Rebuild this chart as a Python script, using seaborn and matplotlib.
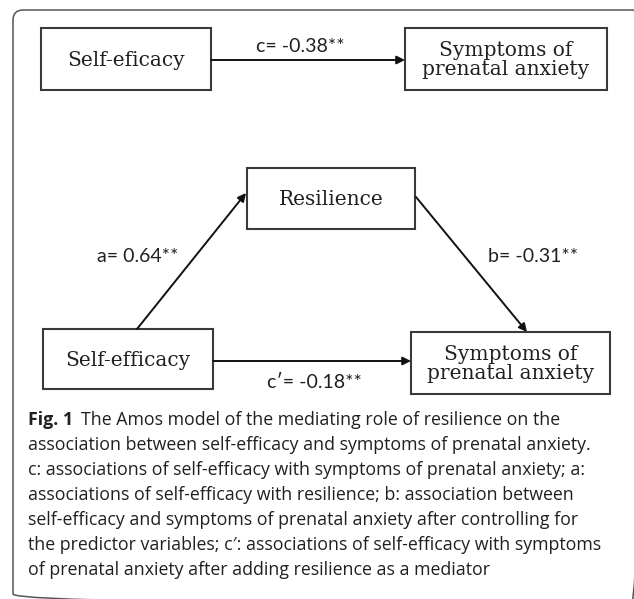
import numpy as np
import pandas as pd
import matplotlib
matplotlib.use("Agg")
import matplotlib.pyplot as plt
from matplotlib.patches import Rectangle, FancyBboxPatch
import seaborn as sns

# path model: variables and coefficients
nodes = ["Self-eficacy", "Symptoms of\nprenatal anxiety", "Resilience",
         "Self-efficacy", "Symptoms of\nprenatal anxiety"]
paths = ["c", "a", "b", "c′"]
coefs = [-0.38, 0.64, -0.31, -0.18]
stars = ["**", "**", "**", "**"]

caption_lines = [
    "The Amos model of the mediating role of resilience on the",
    "association between self-efficacy and symptoms of prenatal anxiety.",
    "c: associations of self-efficacy with symptoms of prenatal anxiety; a:",
    "associations of self-efficacy with resilience; b: association between",
    "self-efficacy and symptoms of prenatal anxiety after controlling for",
    "the predictor variables; c′: associations of self-efficacy with symptoms",
    "of prenatal anxiety after adding resilience as a mediator",
]

sns.set_style("white")
plt.rcParams["font.family"] = ["Lato", "DejaVu Sans"]

W, H = 634, 599
fig = plt.figure(figsize=(W / 100, H / 100), dpi=100)
ax = fig.add_axes([0, 0, 1, 1])
ax.set_xlim(0, W)
ax.set_ylim(H, 0)
ax.axis("off")

edge = "#3a3a3a"
ink = "#231f20"

# outer frame (right and bottom edges run off the picture)
ax.add_patch(FancyBboxPatch((13, 10), 628, 594,
                            boxstyle="round,pad=0,rounding_size=10",
                            fill=False, ec="#555555", lw=1.1))

# boxes: x0, y0, x1, y1
boxes = [(41, 28, 211, 90), (405, 28, 607, 90), (247, 168, 415, 229),
         (43, 329, 213, 389), (411, 332, 610, 394)]
for (x0, y0, x1, y1), name in zip(boxes, nodes):
    ax.add_patch(Rectangle((x0, y0), x1 - x0, y1 - y0, fill=False,
                           ec=edge, lw=1.5))
    ax.text((x0 + x1) / 2, (y0 + y1) / 2 + 1, name, ha="center", va="center",
            family="DejaVu Serif", fontsize=14.5, color=ink,
            linespacing=1.05)

# arrows: start, end
arrows = [((211, 60), (405, 60)), ((137, 329), (246, 193)),
          ((416, 197), (527, 332)), ((213, 361), (411, 361))]
for (s, e) in arrows:
    ax.annotate("", xy=e, xytext=s,
                arrowprops=dict(arrowstyle="-|>", color="#111111", lw=1.4,
                                mutation_scale=12, shrinkA=0, shrinkB=0))

label_pos = [(300, 47), (138, 257), (533, 257), (314, 382)]
for p, c, st, (x, y) in zip(paths, coefs, stars, label_pos):
    ax.text(x, y, f"{p}= {c:.2f}{st}", ha="center", va="center",
            fontsize=14, color=ink)

# caption
cap_font = dict(family=["Open Sans", "DejaVu Sans"], fontsize=12.8, color=ink)
y0 = 420
fig.canvas.draw()
r = fig.canvas.get_renderer()
t = ax.text(28, y0, "Fig. 1", ha="left", va="center", fontweight="bold",
            **cap_font)
bb = t.get_window_extent(renderer=r)
x_after = ax.transData.inverted().transform((bb.x1, 0))[0] + 8
ax.text(x_after, y0, caption_lines[0], ha="left", va="center", **cap_font)
for i, line in enumerate(caption_lines[1:], start=1):
    ax.text(28, y0 + 25 * i, line, ha="left", va="center", **cap_font)

fig.savefig("out.png", dpi=100)
